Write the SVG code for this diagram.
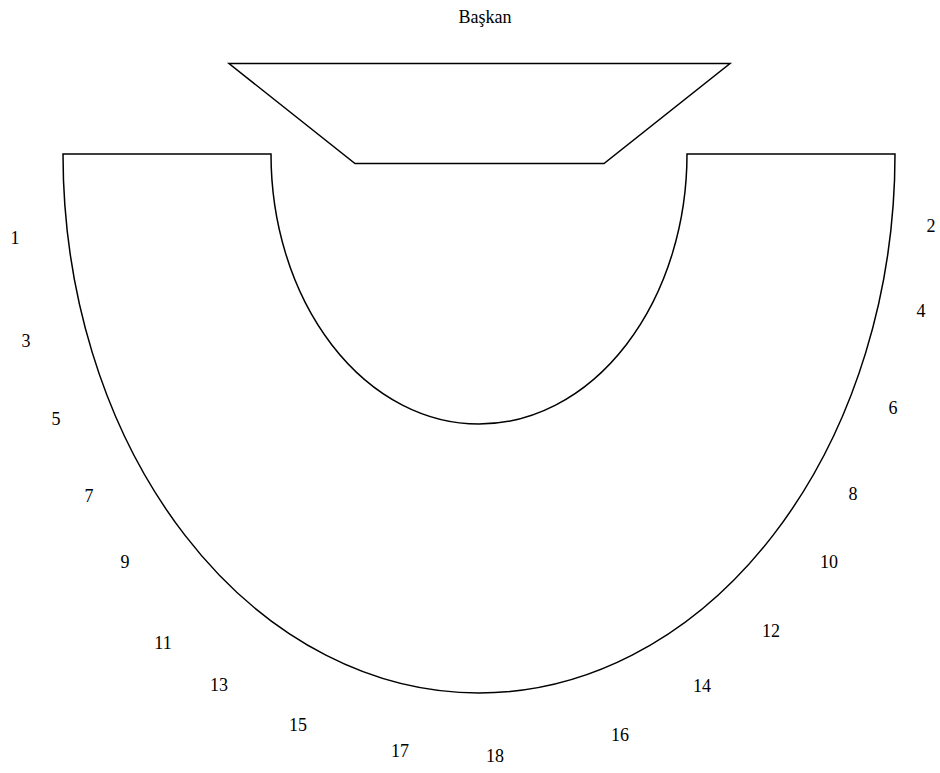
<svg xmlns="http://www.w3.org/2000/svg" width="940" height="773" viewBox="0 0 940 773">
<style>
.s{fill:#fff;stroke:#000;stroke-width:1.5;stroke-linejoin:miter}
text{font-family:"Liberation Serif","Times New Roman",serif;font-size:18px;fill:#000;text-anchor:middle}
</style>
<rect width="940" height="773" fill="#fff"/>
<g id="baskan">
<text x="485" y="23">Başkan</text>
<polygon class="s" points="229,63.5 730,63.5 604,163.5 355,163.5"/>
</g>
<g id="masa">
<path class="s" d="M63,154 H271 A208,270 0 0 0 687,154 H895 A416,539 0 0 1 63,154 Z"/>
</g>
<g id="labels">
<text x="15" y="244">1</text>
<text x="931" y="232">2</text>
<text x="26" y="347">3</text>
<text x="921" y="317">4</text>
<text x="56" y="425">5</text>
<text x="893" y="414">6</text>
<text x="89" y="502">7</text>
<text x="853" y="500">8</text>
<text x="125" y="568">9</text>
<text x="829" y="568">10</text>
<text x="163" y="649">11</text>
<text x="771" y="637">12</text>
<text x="219" y="691">13</text>
<text x="702" y="692">14</text>
<text x="298" y="731">15</text>
<text x="620" y="741">16</text>
<text x="400" y="757">17</text>
<text x="495" y="762">18</text>
</g>
</svg>
